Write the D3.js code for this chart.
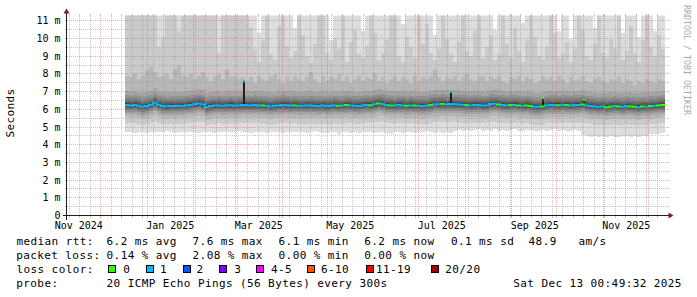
<!DOCTYPE html>
<html>
<head>
<meta charset="utf-8">
<script src="https://cdn.jsdelivr.net/npm/d3@7"></script>
<style>
  body { margin: 0; background: #fff; }
  svg { display: block; }
  text { font-family: "DejaVu Sans Mono", monospace; }
</style>
</head>
<body>
<div id="chart"></div>
<script>
// ---- data (ms) ----
// one sample every 64 h, first one on Dec 17 2024
const sampleStart = "2024-12-17T08:00:00Z";
const sampleHours = 64;

const median = [
  6.24,6.22,6.25,6.20,6.14,6.18,6.26,6.38,6.26,6.18,6.17,6.19,6.18,6.20,6.19,
  6.22,6.25,6.28,6.33,6.28,6.12,6.18,6.21,6.22,6.20,6.21,6.23,6.20,6.22,6.24,
  6.23,6.22,6.24,6.22,6.21,6.20,6.16,6.20,6.22,6.24,6.23,6.21,6.22,6.20,6.20,
  6.21,6.22,6.20,6.19,6.21,6.17,6.20,6.22,6.20,6.21,6.24,6.22,6.20,6.19,6.22,
  6.25,6.23,6.28,6.33,6.30,6.24,6.22,6.21,6.24,6.22,6.20,6.22,6.21,6.20,6.18,
  6.20,6.24,6.29,6.28,6.30,6.27,6.30,6.28,6.27,6.26,6.24,6.22,6.24,6.25,6.22,
  6.22,6.30,6.32,6.27,6.24,6.22,6.24,6.25,6.22,6.20,6.22,6.18,6.14,6.14,6.16,
  6.22,6.25,6.24,6.23,6.26,6.24,6.22,6.24,6.25,6.27,6.22,6.18,6.16,6.14,6.16,
  6.12,6.15,6.18,6.16,6.14,6.18,6.16,6.14,6.12,6.16,6.15,6.18,6.20,6.22,6.24
];

// lost pings per sample (0 or 1 of 20)
const lossCount = [
  1,1,1,1,1,1,1,1,1,1,1,1,1,1,1,
  1,1,1,1,1,1,1,1,1,1,1,1,1,1,1,
  1,1,1,1,0,1,1,1,1,1,1,1,0,1,1,
  1,1,1,1,1,1,1,1,0,1,0,1,1,1,1,
  1,0,1,0,1,1,0,1,1,1,0,1,0,1,1,
  1,0,1,1,0,1,1,1,1,1,0,1,1,1,1,
  1,1,1,0,1,1,0,1,0,1,0,0,1,1,0,
  1,1,1,0,1,0,1,1,1,0,1,1,1,1,1,
  0,0,1,0,1,1,0,0,1,0,1,0,1,0,0
];

// fastest ping
const pingMin = [
  4.72,4.70,4.68,4.74,4.71,4.66,4.70,4.73,4.69,4.72,4.75,4.70,4.68,4.71,4.74,
  4.70,4.72,4.69,4.67,4.71,4.74,4.70,4.68,4.72,4.73,4.70,4.69,4.71,4.75,4.72,
  4.70,4.68,4.72,4.74,4.70,4.66,4.69,4.73,4.71,4.68,4.72,4.70,4.74,4.71,4.69,
  4.66,4.72,4.75,4.70,4.64,4.68,4.73,4.71,4.62,4.70,4.74,4.68,4.72,4.66,4.70,
  4.73,4.69,4.65,4.71,4.74,4.68,4.62,4.70,4.72,4.67,4.74,4.70,4.66,4.72,4.69,
  4.75,4.70,4.64,4.72,4.68,4.73,4.66,4.78,4.82,4.80,4.85,4.78,4.82,4.88,4.80,
  4.84,4.78,4.86,4.80,4.82,4.76,4.84,4.88,4.80,4.78,4.84,4.82,4.75,4.80,4.84,
  4.78,4.82,4.86,4.80,4.84,4.76,4.80,4.82,4.78,4.56,4.48,4.45,4.50,4.44,4.48,
  4.46,4.52,4.45,4.42,4.50,4.47,4.44,4.49,4.46,4.52,4.48,4.58,4.62,4.60,4.64
];

// 18th, 19th and 20th (slowest) of the 20 sorted pings
const ping18 = [
  7.9,7.8,8.0,7.7,7.9,8.2,8.4,8.1,7.8,7.9,8.0,7.7,8.3,8.5,7.9,
  7.8,8.0,7.7,7.9,8.1,7.8,7.6,7.9,8.0,7.7,8.2,7.8,7.9,7.7,7.8,
  7.6,7.8,7.5,7.9,7.7,7.6,7.8,8.0,7.7,7.5,7.8,7.6,7.9,7.7,7.6,
  7.8,8.1,7.7,7.5,7.9,7.6,7.8,7.7,8.0,7.6,7.8,7.5,7.7,7.9,7.6,
  7.8,7.7,8.0,7.6,7.8,7.5,7.7,7.9,7.6,7.8,7.7,7.5,7.9,7.6,7.8,
  7.7,7.9,8.2,7.8,7.6,7.8,7.7,7.9,7.6,7.8,8.0,7.7,7.6,7.8,7.9,
  7.6,7.8,7.7,7.9,7.6,7.5,7.8,7.7,7.9,7.6,7.8,7.7,7.5,7.6,7.9,
  7.7,7.8,7.6,7.9,7.7,7.5,7.8,7.6,7.7,7.9,7.6,7.5,7.7,7.8,7.6,
  7.5,7.7,7.6,7.8,7.5,7.7,7.6,7.4,7.6,7.5,7.7,7.6,7.5,7.7,7.6
];
const ping19 = [
  11.5,11.5,11.5,11.5,11.5,11.5,11.5,11.5,9.5,10.1,11.5,11.5,11.5,10.4,11.5,
  11.5,11.5,11.5,11.5,11.5,11.5,11.5,11.5,9.2,11.5,11.5,11.5,11.5,11.5,11.5,
  11.5,10.6,9.4,8.7,9.9,11.5,9.1,8.8,10.7,11.5,9.6,8.9,9.3,11.5,10.2,
  9.0,8.6,9.7,11.5,11.5,9.2,8.8,10.0,9.4,11.5,8.7,9.8,10.5,9.1,8.9,
  9.6,11.5,10.3,8.8,9.2,9.9,11.5,11.5,9.0,8.7,10.1,9.5,8.9,11.5,9.7,
  10.8,9.2,8.8,9.4,11.5,10.0,9.1,8.7,9.8,11.5,9.3,9.0,10.4,11.5,8.9,
  9.5,10.2,8.8,9.1,11.5,9.7,8.9,10.6,9.3,8.7,9.9,11.5,10.1,9.0,8.8,
  9.6,11.5,10.3,8.9,9.2,9.8,8.7,9.4,11.5,10.5,9.0,8.8,9.7,11.5,9.2,
  8.9,10.0,9.4,11.5,8.8,9.3,10.7,9.1,8.7,9.9,11.5,9.5,9.0,10.2,9.4
];
const pingMax = [
  11.5,11.5,11.5,11.5,11.5,11.5,11.5,11.5,11.5,11.5,11.5,11.5,11.5,11.5,11.5,
  11.5,11.5,11.5,11.5,11.5,11.5,11.5,11.5,11.5,11.5,11.5,11.5,11.5,11.5,11.5,
  11.5,11.5,11.5,10.3,11.5,11.5,11.5,11.5,11.5,11.5,11.5,11.5,10.6,11.5,11.5,
  11.5,11.5,11.5,11.5,11.5,11.5,9.9,11.5,11.5,11.5,11.5,11.5,11.5,11.5,10.4,
  11.5,11.5,11.5,11.5,11.5,11.5,11.5,11.5,11.5,10.8,11.5,11.5,11.5,11.5,11.5,
  11.5,11.5,10.2,11.5,11.5,11.5,11.5,11.5,11.5,11.5,11.5,11.5,11.5,11.5,11.5,
  11.5,11.5,10.5,11.5,11.5,11.5,11.5,11.5,11.5,10.9,11.5,11.5,11.5,11.5,11.5,
  11.5,11.5,11.5,10.4,11.5,11.5,10.0,11.5,11.5,11.5,11.5,11.5,10.6,11.5,11.5,
  11.5,11.5,11.5,11.5,10.3,11.5,11.5,11.5,10.1,11.5,11.5,11.5,10.4,11.5,11.5
];
// typical offset of pings 2..17 from the median
const rankOffset = [-1.02,-0.70,-0.50,-0.38,-0.28,-0.20,-0.13,-0.07,-0.02,0.04,0.10,0.18,0.28,0.40,0.55,0.80];

// single-sample median spikes
const spikeTimes = ["2025-03-06T08:00:00Z", "2025-07-22T16:00:00Z", "2025-09-21T16:00:00Z", "2025-10-19T08:00:00Z"];
const spikeValues = [7.6, 6.95, 6.62, 6.55];
const spikeLoss = [1, 1, 0, 0];

const yTicks = [0,1,2,3,4,5,6,7,8,9,10,11];
const lossLabels = ["0","1","2","3","4-5","6-10","11-19","20/20"];
const lossColors = ["#26ff00","#00b8ff","#0059ff","#7e00ff","#ff00ff","#ff5500","#ff0000","#a10000"];
const rttStats = ["6.2 ms avg","7.6 ms max","6.1 ms min","6.2 ms now","0.1 ms sd"];
const rttAmpl = ["48.9","am/s"];
const lossStats = ["0.14 % avg","2.08 % max","0.00 % min","0.00 % now"];
const probeText = "20 ICMP Echo Pings (56 Bytes) every 300s";
const stamp = "Sat Dec 13 00:49:32 2025";

// ---- layout ----
const W = 697, H = 297;
const x0 = 66.5, x1 = 666.5, yBase = 215.5, yTop = 15.5;
const gridCol = "rgba(143,143,143,0.5)";
const mgridCol = "rgba(222,79,79,0.45)";
const statX = [106.6, 192.6, 278.6, 364.3, 451];
const amplX = [528.6, 578.4];
const boxX = [108, 146, 182.5, 219, 256, 306.5, 365.5, 430.5];
const lossLabelX = [123.3, 160, 196.6, 234.3, 271, 321, 376, 445.3];

const svg = d3.select("#chart").append("svg")
  .attr("width", W)
  .attr("height", H);

svg.append("rect").attr("width", W).attr("height", H).attr("fill", "#fff");

const x = d3.scaleUtc()
  .domain([new Date("2024-11-08T08:00:00Z"), new Date("2025-12-13T08:00:00Z")])
  .range([x0, x1]);
const y = d3.scaleLinear().domain([0, 11.3]).range([yBase, yTop]);
const snap = v => Math.round(v - 0.5) + 0.5;

svg.append("clipPath").attr("id", "plot")
  .append("rect")
  .attr("x", x0).attr("y", yTop)
  .attr("width", x1 - x0).attr("height", yBase - yTop);

// sample times
const t0 = new Date(sampleStart).getTime();
const times = d3.range(median.length + 1).map(i => new Date(t0 + i * sampleHours * 3600e3));

// 20 sorted pings per sample
const ranks = median.map((m, i) =>
  [pingMin[i], ...rankOffset.map(o => m + o), ping18[i], ping19[i], pingMax[i]]);

// smoke: band k spans ping k .. ping 21-k, outer bands lighter
const smoke = svg.append("g")
  .attr("clip-path", "url(#plot)")
  .attr("shape-rendering", "crispEdges");

d3.range(1, 11).forEach(k => {
  const shade = 50 + Math.floor(190 / 10 * (10 - k));
  smoke.append("g")
    .attr("fill", d3.rgb(shade, shade, shade))
    .selectAll("rect")
    .data(ranks)
    .join("rect")
    .attr("x", (d, i) => x(times[i]))
    .attr("width", (d, i) => x(times[i + 1]) - x(times[i]))
    .attr("y", d => y(d[20 - k]))
    .attr("height", d => y(d[k - 1]) - y(d[20 - k]));
});

// median spikes
const spikes = svg.append("g").attr("shape-rendering", "crispEdges");
spikeTimes.forEach((s, j) => {
  const t = new Date(s);
  const bin = Math.min(median.length - 1, Math.floor((t - t0) / (sampleHours * 3600e3)));
  const sx = Math.round(x(t)) - 1;
  spikes.append("rect")
    .attr("x", sx).attr("width", 2)
    .attr("y", y(spikeValues[j]))
    .attr("height", y(median[bin]) - y(spikeValues[j]))
    .attr("fill", "#1e1e1e");
  spikes.append("rect")
    .attr("x", sx).attr("width", 2)
    .attr("y", y(spikeValues[j]) - 1).attr("height", 2)
    .attr("fill", lossColors[spikeLoss[j]]);
});

// median line, coloured by loss
const line = d3.line();
const med = svg.append("g").attr("fill", "none").attr("stroke-width", 2);
median.forEach((m, i) => {
  const prev = i > 0 ? median[i - 1] : m;
  med.append("path")
    .attr("d", line([
      [x(times[i]), y(prev)],
      [x(times[i]), y(m)],
      [x(times[i + 1]), y(m)]
    ]))
    .attr("stroke", lossColors[lossCount[i]]);
});

// grid (on top, dotted)
const grid = svg.append("g")
  .attr("shape-rendering", "crispEdges")
  .attr("stroke-width", 1)
  .attr("fill", "none");

function hLine(v, col) {
  const yy = snap(y(v));
  grid.append("line").attr("x1", x0 - 2).attr("x2", x0).attr("y1", yy).attr("y2", yy).attr("stroke", col);
  grid.append("line").attr("x1", x1).attr("x2", x1 + 2).attr("y1", yy).attr("y2", yy).attr("stroke", col);
  grid.append("line").attr("x1", x0).attr("x2", x1).attr("y1", yy).attr("y2", yy)
    .attr("stroke", col).attr("stroke-dasharray", "1,1");
}
function vLine(t, col) {
  const xx = snap(x(t));
  grid.append("line").attr("x1", xx).attr("x2", xx).attr("y1", yBase).attr("y2", yBase + 2).attr("stroke", col);
  grid.append("line").attr("x1", xx).attr("x2", xx).attr("y1", yTop - 2).attr("y2", yTop).attr("stroke", col);
  grid.append("line").attr("x1", xx).attr("x2", xx).attr("y1", yTop).attr("y2", yBase)
    .attr("stroke", col).attr("stroke-dasharray", "1,1");
}

const [d0, d1] = x.domain();
yTicks.forEach(v => { if (v + 0.5 <= 11.3) hLine(v + 0.5, gridCol); });
yTicks.filter(v => v > 0).forEach(v => hLine(v, mgridCol));
const months = d3.utcMonth.range(d0, d1);
d3.utcSunday.range(d0, d1)
  .filter(t => !months.some(m => +m === +t))
  .forEach(t => vLine(t, gridCol));
months.forEach(t => vLine(t, mgridCol));

// axes with arrows
svg.append("line")
  .attr("x1", x0 - 4).attr("x2", x1 + 4)
  .attr("y1", yBase).attr("y2", yBase)
  .attr("stroke", "#1f1f1f").attr("shape-rendering", "crispEdges");
svg.append("line")
  .attr("x1", x0).attr("x2", x0)
  .attr("y1", yBase + 4).attr("y2", yTop - 4)
  .attr("stroke", "#1f1f1f").attr("shape-rendering", "crispEdges");
svg.append("path")
  .attr("d", `M${x1 + 2},${yBase - 3}L${x1 + 2},${yBase + 3}L${x1 + 7},${yBase}Z`)
  .attr("fill", "#7f1f1f");
svg.append("path")
  .attr("d", `M${x0 - 3},${yTop - 2}L${x0 + 3},${yTop - 2}L${x0},${yTop - 7}Z`)
  .attr("fill", "#7f1f1f");

// y tick labels
svg.append("g")
  .attr("font-size", "10px")
  .attr("text-anchor", "end")
  .selectAll("text")
  .data(yTicks)
  .join("text")
  .attr("x", 60.5)
  .attr("y", v => snap(y(v)) + 3.5)
  .text(v => v === 0 ? "0" : v + " m");

// x labels: every second month, centred mid-month
svg.append("g")
  .attr("font-size", "10px")
  .attr("text-anchor", "middle")
  .selectAll("text")
  .data(d3.utcMonth.every(2).range(new Date("2024-11-01T00:00:00Z"), d1))
  .join("text")
  .attr("x", t => x(d3.utcHour.offset(t, 372)))
  .attr("y", 228.8)
  .text(d3.utcFormat("%b %Y"));

// unit label
svg.append("text")
  .attr("transform", "translate(14.3,113) rotate(-90)")
  .attr("text-anchor", "middle")
  .attr("font-size", "11px")
  .attr("letter-spacing", "0.4px")
  .text("Seconds");

// watermark
svg.append("text")
  .attr("transform", "translate(684,5) rotate(90)")
  .attr("font-size", "8.3px")
  .attr("fill", "#a9a9a9")
  .text("RRDTOOL / TOBI OETIKER");

// legend
const legend = svg.append("g")
  .attr("font-size", "11px")
  .attr("letter-spacing", "0.4px")
  .attr("fill", "#000");

legend.append("text").attr("x", 16.5).attr("y", 245).text("median rtt:");
rttStats.forEach((s, i) => legend.append("text").attr("x", statX[i]).attr("y", 245).text(s));
rttAmpl.forEach((s, i) => legend.append("text").attr("x", amplX[i]).attr("y", 245).text(s));

legend.append("text").attr("x", 16.2).attr("y", 259).text("packet loss:");
lossStats.forEach((s, i) => legend.append("text").attr("x", statX[i]).attr("y", 259).text(s));

legend.append("text").attr("x", 16.5).attr("y", 273).text("loss color:");
lossLabels.forEach((s, i) => {
  legend.append("rect")
    .attr("x", boxX[i] + 0.5).attr("y", 265.5)
    .attr("width", 7).attr("height", 7)
    .attr("fill", lossColors[i])
    .attr("stroke", "#000")
    .attr("shape-rendering", "crispEdges");
  legend.append("text").attr("x", lossLabelX[i]).attr("y", 273).text(s);
});

legend.append("text").attr("x", 16.3).attr("y", 287).text("probe:");
legend.append("text").attr("x", 106.6).attr("y", 287).text(probeText);
legend.append("text").attr("x", 513.3).attr("y", 287).text(stamp);
</script>
</body>
</html>
